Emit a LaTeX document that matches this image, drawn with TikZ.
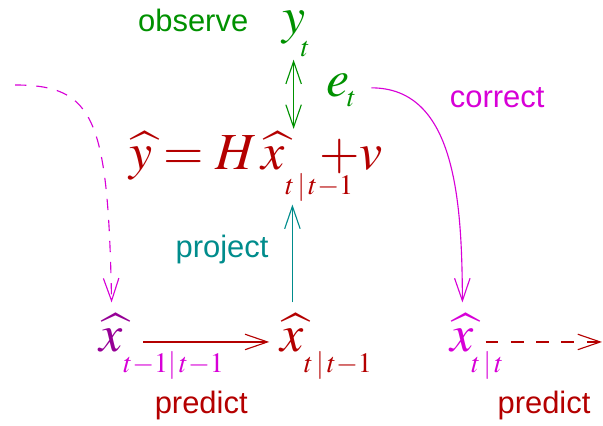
\documentclass[tikz,border=0pt]{standalone}
\usepackage{mathptmx}
\usepackage{fontspec}
\setmainfont{Liberation Serif}
\setsansfont{Liberation Sans}
\usetikzlibrary{arrows.meta, positioning}
\definecolor{mygreen}{RGB}{0,145,0}
\definecolor{myred}{RGB}{180,0,0}
\definecolor{mymagenta}{RGB}{215,0,215}
\definecolor{mypurple}{RGB}{150,0,150}
\definecolor{myteal}{RGB}{0,140,140}
% lowered subscript: drop, shift, text
\newcommand{\lowsub}[3]{\rlap{\kern#2\raisebox{-#1}{\fontsize{20}{22}\selectfont$#3$}}}
\tikzset{
  mathnode/.style={inner sep=2pt, font=\fontsize{37}{40}\selectfont, anchor=base},
  estnode/.style={mathnode, inner sep=8pt},
  lbl/.style={font=\sffamily\fontsize{22}{24}\selectfont, anchor=base},
  barb/.style={-{Straight Barb[length=16pt,width=11pt]}, line width=0.8pt},
  dbarb/.style={{Straight Barb[length=16pt,width=11pt]}-{Straight Barb[length=16pt,width=11pt]}, line width=0.8pt}
}

\begin{document}
\begin{tikzpicture}
  \useasboundingbox (0,0) rectangle (15.075,10.625);

  % Observation
  \node[lbl, text=mygreen] (obs) at (4.83,9.83) {observe};
  \node[mathnode, text=mygreen] (yt) at (7.34,9.78) {$y\lowsub{16pt}{-3pt}{t}$};
  \node[mathnode, text=mygreen] (et) at (8.46,8.2) {$e\lowsub{7pt}{-2pt}{t}$};

  % Measurement equation
  \node[mathnode, text=myred] (eqlhs) at (4.83,6.38) {$\widehat{y} = H$};
  \node[mathnode, text=myred] (xeq) at (6.84,6.38) {$\widehat{x}\lowsub{17.5pt}{0pt}{t\,|\,t{-}1}$};
  \node[mathnode, text=myred] (eqrhs) at (8.78,6.38) {${+}v$};

  % Estimates
  \node[estnode, text=mypurple] (xprev) at (2.79,1.83) {$\widehat{x}\lowsub{14.5pt}{0pt}{\color{mymagenta}t{-}1|\,t{-}1}$};
  \node[estnode, text=myred] (xmid) at (7.31,1.83) {$\widehat{x}\lowsub{14.5pt}{0pt}{t\,|\,t{-}1}$};
  \node[estnode, text=mymagenta] (xupd) at (11.56,1.83) {$\widehat{x}\lowsub{14.5pt}{-2pt}{t\,|\,t}$};
  \coordinate (xold) at (0.38,8.5);
  \coordinate (xnext) at (15.05,1.83);

  % Labels
  \node[lbl, text=mymagenta] (corr) at (12.43,7.93) {correct};
  \node[lbl, text=myteal] (proj) at (5.55,4.18) {project};
  \node[lbl, text=myred] (pred1) at (5.03,0.3) {predict};
  \node[lbl, text=myred] (pred2) at (13.6,0.3) {predict};

  % Connections
  \draw[barb, mymagenta, dash pattern=on 8pt off 7pt] (xold) .. controls (2.38,8.5) and (2.7,7.63) .. (xprev.north);
  \draw[barb, mymagenta, shorten <=13pt] ([yshift=6.5pt]et.base east) .. controls (11.38,8.43) and (11.55,5.63) .. (xupd.north);
  \draw[dbarb, mygreen] (yt.south) -- (yt.south |- xeq.north);
  \draw[barb, myteal] (xmid.north) -- (xmid.north |- xeq.south);
  \draw[barb, myred, shorten <=6pt] ([yshift=7pt]xprev.base east) -- ([yshift=7pt]xmid.base west);
  \draw[barb, myred, dash pattern=on 9pt off 9pt] ([yshift=7pt]xupd.base east) -- ([yshift=7pt]xupd.base east -| xnext);
\end{tikzpicture}
\end{document}
